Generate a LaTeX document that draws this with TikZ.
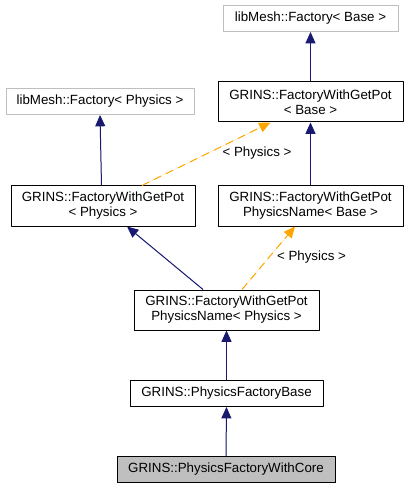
\documentclass[tikz,border=0pt]{standalone}
\usepackage{fontspec}
\setmainfont{Liberation Sans}
\usetikzlibrary{arrows.meta,calc}
\definecolor{edgenavy}{HTML}{191970}
\definecolor{tmplorange}{HTML}{FFA500}
\definecolor{extgray}{HTML}{BFBFBF}
\begin{document}
\begin{tikzpicture}[x=0.75pt, y=-0.75pt, font=\fontsize{10}{11.25}\selectfont, line join=round, >={Triangle[length=8.5pt,width=7.5pt]},
	cls/.style={draw=black, line width=0.75pt, inner sep=0pt, align=center, minimum height=30pt},
	onecls/.style={cls, minimum height=19.5pt},
	extcls/.style={onecls, draw=extgray},
	curcls/.style={onecls, fill=extgray},
	inh/.style={->, draw=edgenavy, fill=edgenavy, line width=0.75pt},
	tmpl/.style={->, draw=tmplorange, fill=tmplorange, line width=0.75pt, dash pattern=on 6pt off 4pt}]
	\useasboundingbox (0,0) rectangle (408,488);
	% classes
	\node[extcls, minimum width=131.25pt] (libbase) at (310.5,18.5) {libMesh::Factory< Base >};
	\node[cls, minimum width=138.75pt] (gwgpbase) at (310.5,102) {GRINS::FactoryWithGetPot\\< Base >};
	\node[extcls, minimum width=141pt] (libphys) at (100,101.5) {libMesh::Factory< Physics >};
	\node[cls, minimum width=138pt] (gwgpphys) at (103,206) {GRINS::FactoryWithGetPot\\< Physics >};
	\node[cls, minimum width=138.75pt] (gwgpnbase) at (310.5,206) {GRINS::FactoryWithGetPot\\PhysicsName< Base >};
	\node[cls, minimum width=138.75pt] (gwgpnphys) at (226.5,310) {GRINS::FactoryWithGetPot\\PhysicsName< Physics >};
	\node[onecls, minimum width=144.75pt] (pfbase) at (226.5,393.5) {GRINS::PhysicsFactoryBase};
	\node[curcls, minimum width=163.5pt] (pfcore) at (226,469.5) {GRINS::PhysicsFactoryWithCore};
	% template labels
	\node (lbla) at (257,153) {< Physics >};
	\node (lblb) at (311.5,257) {< Physics >};
	% inheritance
	\draw[inh] (gwgpbase.north) -- (libbase.south);
	\draw[inh] (gwgpnbase.north) -- (gwgpbase.south);
	\draw[inh] ($(gwgpphys.north)+(-1.5,0)$) -- (libphys.south);
	\draw[inh] ($(gwgpnphys.north)+(-23.5,0)$) -- ($(gwgpphys.south)+(24,0)$);
	\draw[inh] (pfbase.north) -- (gwgpnphys.south);
	\draw[inh] (pfcore.north) -- (pfbase.south);
	% template instances
	\draw[tmpl] ($(gwgpphys.north)+(39,0)$) -- ($(gwgpbase.south)+(-40,0)$);
	\draw[tmpl] ($(gwgpnphys.north)+(15.5,0)$) -- ($(gwgpnbase.south)+(-15.5,0)$);
\end{tikzpicture}
\end{document}
